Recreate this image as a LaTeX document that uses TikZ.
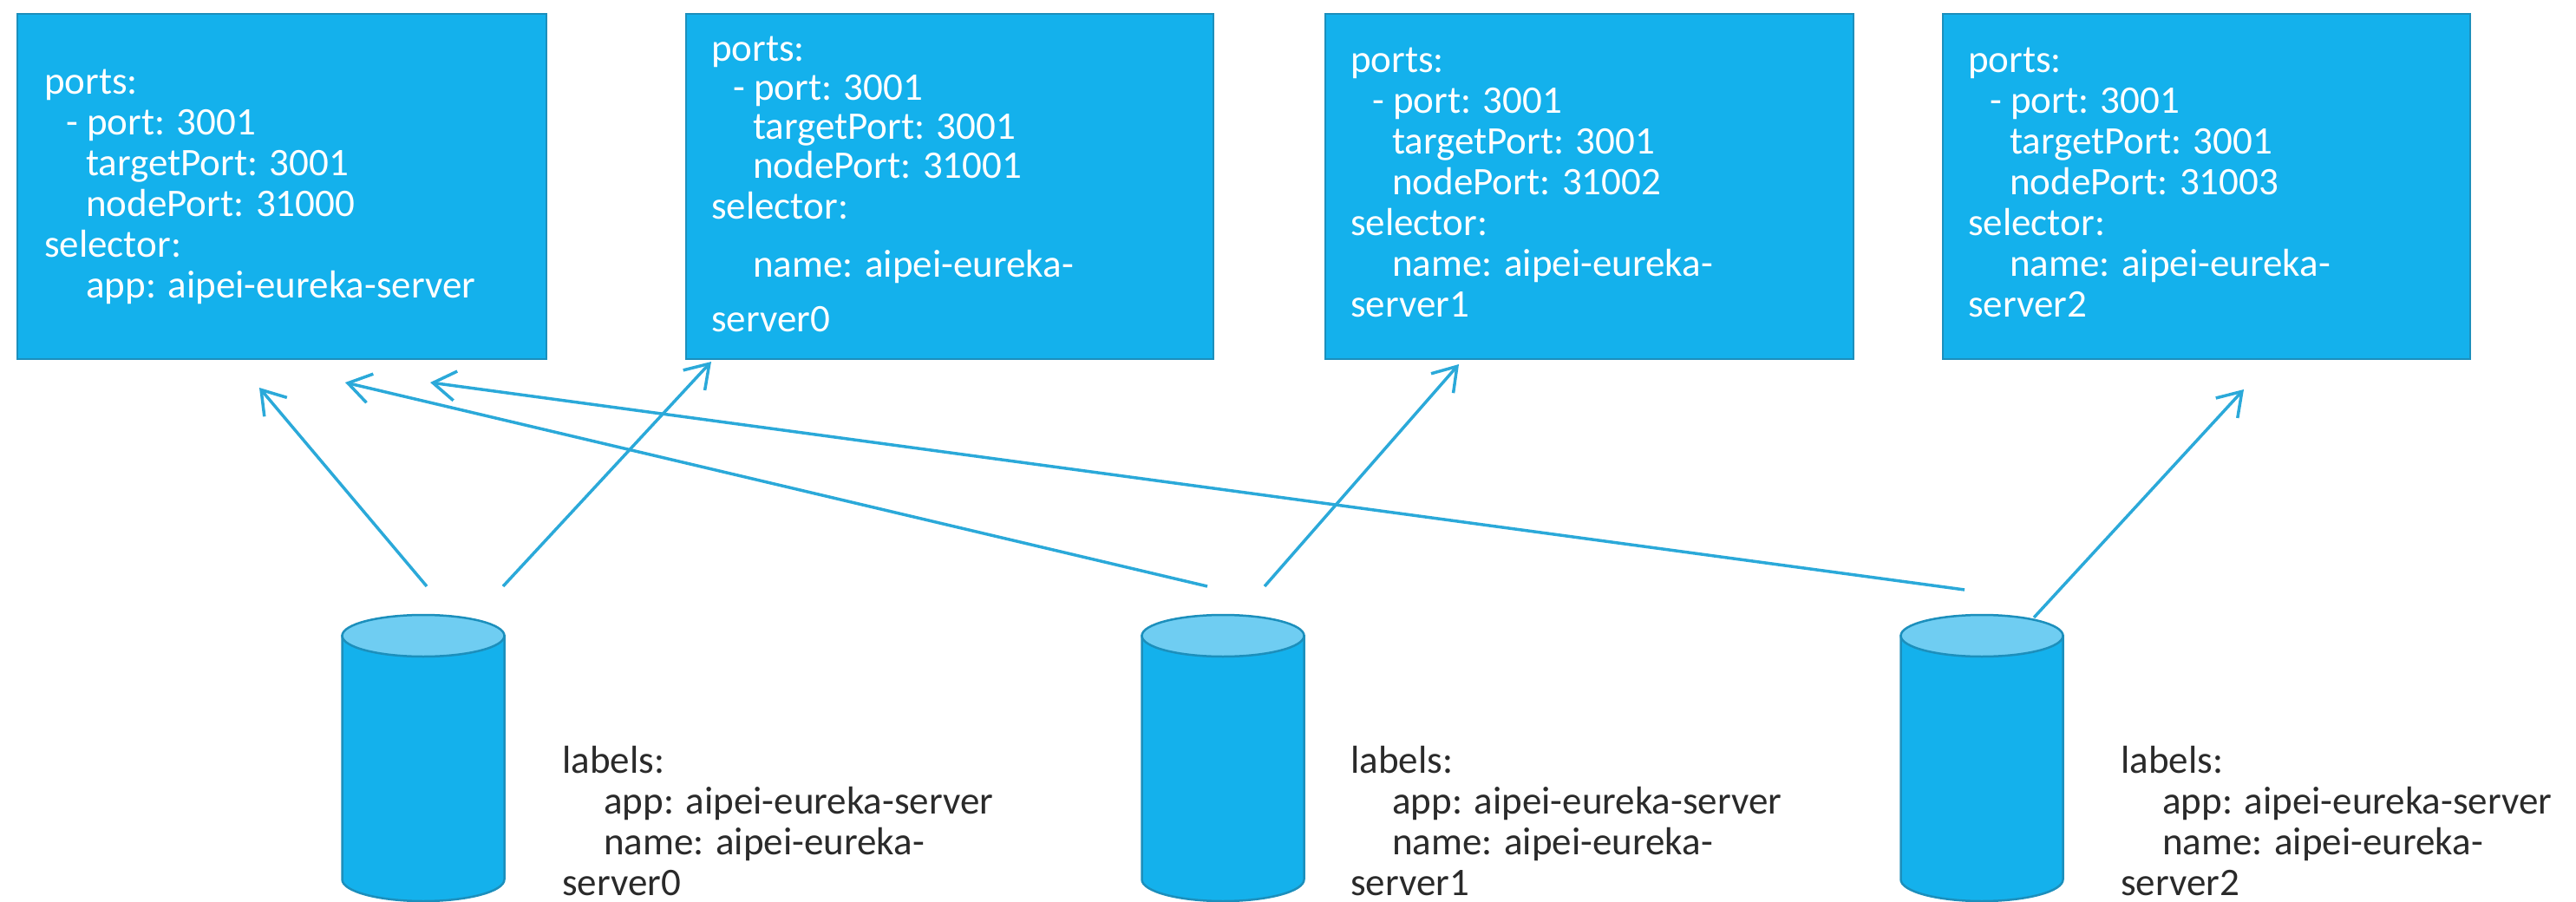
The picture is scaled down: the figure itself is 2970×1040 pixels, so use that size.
\documentclass[tikz,border=0pt]{standalone}
\usepackage{fontspec}
\setmainfont{Carlito}
\usetikzlibrary{arrows.meta}
\newcommand{\indA}{\hspace*{25pt}}
\newcommand{\indB}{\hspace*{48pt}}
\definecolor{boxfill}{HTML}{14B1EC}
\definecolor{boxline}{HTML}{1C8FBC}
\definecolor{capfill}{HTML}{6FCDF2}
\definecolor{arrowc}{HTML}{2BA9D9}
\definecolor{labeltxt}{HTML}{2A2A2A}
\tikzset{
  svcbox/.style={draw=boxline,line width=2pt,fill=boxfill,anchor=north west,inner sep=0pt},
  svctext/.style={anchor=north west,inner sep=0pt,align=left,text=white,font=\fontsize{45}{47}\selectfont},
  podtext/.style={anchor=north west,inner sep=0pt,align=left,text=labeltxt,font=\fontsize{45}{47}\selectfont},
  podbody/.style={draw=boxline,line width=2.5pt,fill=boxfill},
  podcap/.style={draw=boxline,line width=2.5pt,fill=capfill},
  podanchor/.style={inner sep=0pt,minimum width=187pt,minimum height=331pt,anchor=north},
  link/.style={draw=arrowc,line width=3.5pt,-{Straight Barb[length=26pt,width=34pt,line width=3.5pt]}}
}
% #1 node name, #2 horizontal centre
\newcommand{\podshape}[2]{%
  \node[podanchor] (#1) at (#2,709) {};
  \path[podbody] (#2-93.5,733) -- (#2-93.5,1014) arc[start angle=180,end angle=360,x radius=93.5pt,y radius=25pt] -- (#2+93.5,733) -- cycle;
  \path[podcap] (#2,733) ellipse[x radius=93.5pt,y radius=24pt];
}
\begin{document}
\begin{tikzpicture}[x=1pt,y=-1pt]
\useasboundingbox (0,0) rectangle (2970,1040);
% service boxes
\node[svcbox,minimum width=610pt,minimum height=398pt] (b1) at (19,15) {};
\node[svcbox,minimum width=608pt,minimum height=398pt] (b2) at (790,15) {};
\node[svcbox,minimum width=609pt,minimum height=398pt] (b3) at (1527,15) {};
\node[svcbox,minimum width=608pt,minimum height=398pt] (b4) at (2239,15) {};
% service texts
\node[svctext] (t1) at (51,80) {ports:\\\indA- port: 3001\\\indB targetPort: 3001\\\indB nodePort: 31000\\selector:\\\indB app: aipei-eureka-server};
\node[svctext] (t2) at (820,42) {ports:\\[-2pt]\indA- port: 3001\\[-2pt]\indB targetPort: 3001\\[-2pt]\indB nodePort: 31001\\selector:\\[20pt]\indB name: aipei-eureka-\\[16pt]server0};
\node[svctext] (t3) at (1557,55) {ports:\\\indA- port: 3001\\\indB targetPort: 3001\\\indB nodePort: 31002\\selector:\\\indB name: aipei-eureka-\\server1};
\node[svctext] (t4) at (2269,55) {ports:\\\indA- port: 3001\\\indB targetPort: 3001\\\indB nodePort: 31003\\selector:\\\indB name: aipei-eureka-\\server2};
% pods
\podshape{p1}{488}
\podshape{p2}{1410}
\podshape{p3}{2285}
% pod labels
\node[podtext] (l1) at (648,860) {labels:\\\indB app: aipei-eureka-server\\\indB name: aipei-eureka-\\server0};
\node[podtext] (l2) at (1557,860) {labels:\\\indB app: aipei-eureka-server\\\indB name: aipei-eureka-\\server1};
\node[podtext] (l3) at (2445,860) {labels:\\\indB app: aipei-eureka-server\\\indB name: aipei-eureka-\\server2};
% connector ends
\coordinate (s1) at (492,676); \coordinate (e1) at (299,447);
\coordinate (s2) at (580,676); \coordinate (e2) at (820,417);
\coordinate (s3) at (1392,676); \coordinate (e3) at (398,441);
\coordinate (s4) at (1458,676); \coordinate (e4) at (1682,420);
\coordinate (s5) at (2265,680); \coordinate (e5) at (496,441);
\coordinate (s6) at (2345,712); \coordinate (e6) at (2587,449);
\draw[link] (s1) -- (e1);
\draw[link] (s2) -- (e2);
\draw[link] (s3) -- (e3);
\draw[link] (s4) -- (e4);
\draw[link] (s5) -- (e5);
\draw[link] (s6) -- (e6);
\end{tikzpicture}
\end{document}
